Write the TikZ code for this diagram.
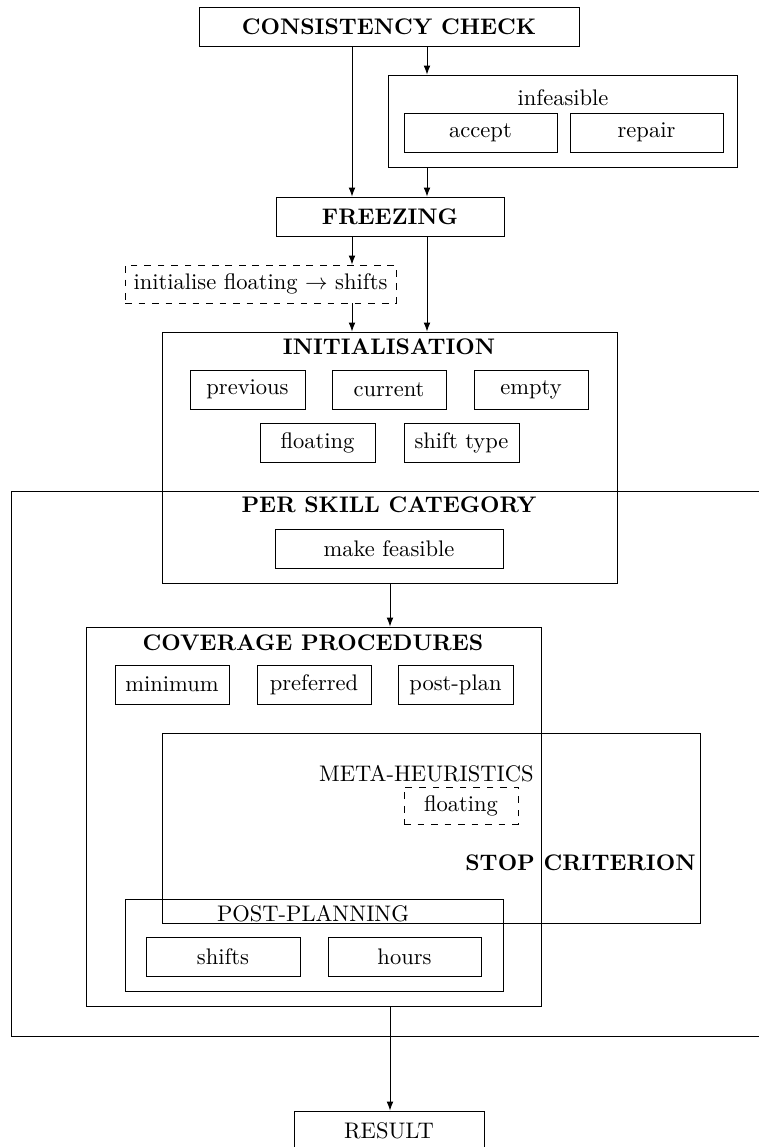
\documentclass[tikz,border=0pt]{standalone}
\usetikzlibrary{arrows.meta}
\begin{document}
\def\u{0.444pt}
\begin{tikzpicture}[x=\u,y=-\u,
  box/.style={draw, rectangle, inner sep=0pt, align=center, minimum height=39*\u, minimum width=#1*\u},
  dbox/.style={box=#1, dashed},
  frame/.style={draw, rectangle, inner sep=0pt},
  lbl/.style={inner sep=0pt, anchor=center},
  arr/.style={-{Latex[length=4pt,width=3pt]}}]
\useasboundingbox (0,0) rectangle (759,1147);
\clip (0,0) rectangle (759,1147);

% top
\node[box=380, font=\bfseries] (cc) at (389,26.5) {CONSISTENCY CHECK};
\node[frame, minimum width=349*\u, minimum height=92*\u] (inf) at (562.5,121) {};
\node[lbl] (inflbl) at (563,98) {infeasible};
\node[box=153] (accept) at (480.5,132.5) {accept};
\node[box=153] (repair) at (646.5,132.5) {repair};
\node[box=228, font=\bfseries] (frz) at (390,216.5) {FREEZING};
\node[dbox=271, minimum height=38*\u] (initfl) at (260.5,284) {initialise floating $\rightarrow$ shifts};

% initialisation
\node[frame, minimum width=455*\u, minimum height=251*\u] (init) at (389.5,457.5) {};
\node[lbl, font=\bfseries] (initlbl) at (389,347) {INITIALISATION};
\node[box=115] (prev) at (247.5,389.5) {previous};
\node[box=114] (curr) at (389,389.5) {current};
\node[box=114] (empty) at (531,389.5) {empty};
\node[box=115] (flt) at (317.5,442.5) {floating};
\node[box=115] (stype) at (461.5,442.5) {shift type};

% per skill category
\node[frame, minimum width=757*\u, minimum height=545*\u] (psc) at (389.5,763.5) {};
\node[lbl, font=\bfseries] (psclbl) at (389,505) {PER SKILL CATEGORY};
\node[box=228] (mkf) at (389,548.5) {make feasible};

% coverage
\node[frame, minimum width=455*\u, minimum height=379*\u] (cov) at (313.5,816.5) {};
\node[lbl, font=\bfseries] (covlbl) at (313,643) {COVERAGE PROCEDURES};
\node[box=114] (min) at (172,684.5) {minimum};
\node[box=114] (pref) at (314,684.5) {preferred};
\node[box=115] (post) at (455.5,684.5) {post-plan};

% stop criterion
\node[frame, minimum width=538*\u, minimum height=190*\u] (stop) at (431,828) {};
\node[lbl, anchor=east] (meta) at (534,774) {META-HEURISTICS};
\node[dbox=114, minimum height=37*\u] (mflt) at (461,805.5) {floating};
\node[lbl, anchor=east, font=\bfseries] (stoplbl) at (696,863) {STOP CRITERION};

% post-planning
\node[frame, minimum width=378*\u, minimum height=92*\u] (pp) at (314,945) {};
\node[lbl] (pplbl) at (313,914) {POST-PLANNING};
\node[box=154] (shifts) at (223,956.5) {shifts};
\node[box=153] (hours) at (404.5,956.5) {hours};

% result
\node[box=190] (res) at (389,1130.5) {RESULT};

% connector columns
\coordinate (xa) at (352,0);
\coordinate (xb) at (427,0);
\coordinate (xc) at (390,0);

\draw[arr] (cc.south -| xa) -- (frz.north -| xa);
\draw[arr] (cc.south -| xb) -- (inf.north -| xb);
\draw[arr] (inf.south -| xb) -- (frz.north -| xb);
\draw[arr] (frz.south -| xa) -- (initfl.north -| xa);
\draw[arr] (initfl.south -| xa) -- (init.north -| xa);
\draw[arr] (frz.south -| xb) -- (init.north -| xb);
\draw[arr] (init.south -| xc) -- (cov.north -| xc);
\draw[arr] (cov.south -| xc) -- (res.north -| xc);
\end{tikzpicture}
\end{document}
